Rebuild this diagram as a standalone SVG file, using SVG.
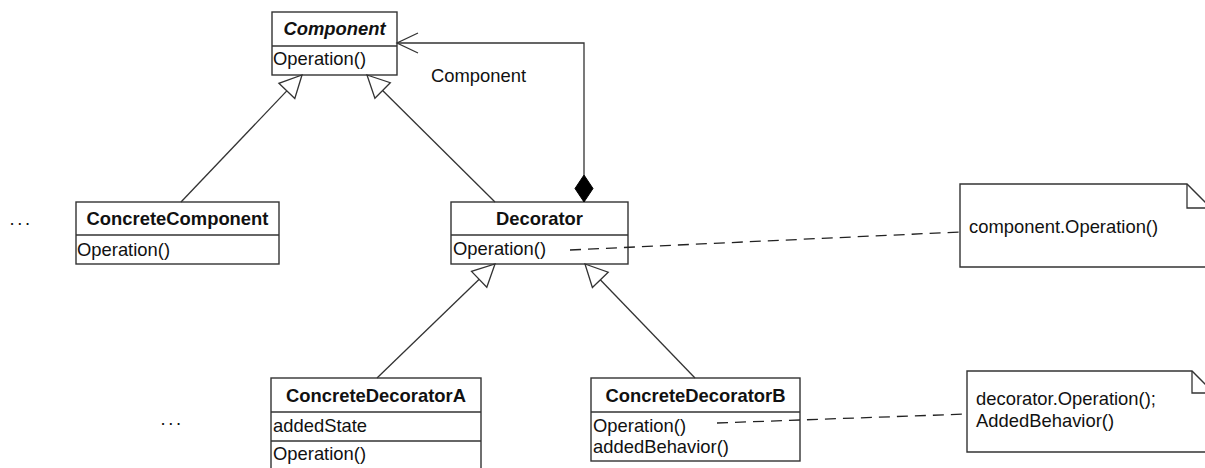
<svg xmlns="http://www.w3.org/2000/svg" width="1205" height="468" viewBox="0 0 1205 468">
<style>
text{font-family:"Liberation Sans",Arial,sans-serif;font-size:18.4px;fill:#111}
.hd{font-weight:bold;text-anchor:middle}
.it{font-style:italic}
.box{fill:#fff;stroke:#333;stroke-width:1.4}
.ln{fill:none;stroke:#333;stroke-width:1.3}
.tri{fill:#fff;stroke:#333;stroke-width:1.3}
.dash{fill:none;stroke:#222;stroke-width:1.3;stroke-dasharray:11,7}
.dots{letter-spacing:2.7px}
</style>
<rect width="1205" height="468" fill="#fff"/>
<g id="Component">
  <rect class="box" x="272" y="12" width="125" height="63"/>
  <line class="ln" x1="272" y1="46" x2="397" y2="46"/>
  <text class="hd it" x="334.5" y="35">Component</text>
  <text x="273" y="65">Operation()</text>
</g>
<g id="ConcreteComponent">
  <rect class="box" x="76" y="202" width="203" height="62"/>
  <line class="ln" x1="76" y1="235" x2="279" y2="235"/>
  <text class="hd" x="177.5" y="225">ConcreteComponent</text>
  <text x="77" y="256">Operation()</text>
</g>
<g id="Decorator">
  <rect class="box" x="451" y="202" width="177" height="62"/>
  <line class="ln" x1="451" y1="235" x2="628" y2="235"/>
  <text class="hd" x="539.5" y="225">Decorator</text>
  <text x="453" y="255">Operation()</text>
</g>
<g id="ConcreteDecoratorA">
  <rect class="box" x="271" y="378" width="210" height="100"/>
  <line class="ln" x1="271" y1="412" x2="481" y2="412"/>
  <line class="ln" x1="271" y1="441" x2="481" y2="441"/>
  <text class="hd" x="376" y="402">ConcreteDecoratorA</text>
  <text x="273" y="432">addedState</text>
  <text x="273" y="460">Operation()</text>
</g>
<g id="ConcreteDecoratorB">
  <rect class="box" x="591" y="378" width="209" height="83"/>
  <line class="ln" x1="591" y1="412" x2="800" y2="412"/>
  <text class="hd" x="695.5" y="402">ConcreteDecoratorB</text>
  <text x="593" y="432">Operation()</text>
  <text x="593" y="453">addedBehavior()</text>
</g>
<g id="note1">
  <polygon class="box" points="960,184 1187,184 1211,208 1211,267 960,267"/>
  <polyline class="ln" points="1187,184 1187,208 1211,208"/>
  <text x="969" y="233">component.Operation()</text>
</g>
<g id="note2">
  <polygon class="box" points="967,371 1192,371 1214,393 1214,452 967,452"/>
  <polyline class="ln" points="1192,371 1192,393 1214,393"/>
  <text x="976" y="405">decorator.Operation();</text>
  <text x="976" y="427">AddedBehavior()</text>
</g>
<g id="ellipsis1"><text class="dots" x="9.5" y="224.5">...</text></g>
<g id="ellipsis2"><text class="dots" x="160.5" y="424.5">...</text></g>
<g id="connectors">
  <line class="ln" x1="181" y1="202" x2="286.8" y2="90.9"/>
  <polygon class="tri" points="302,75 294.8,98.5 278.9,83.3"/>
  <line class="ln" x1="495" y1="202" x2="382.6" y2="90.5"/>
  <polygon class="tri" points="367,75 390.3,82.7 374.9,98.3"/>
  <line class="ln" x1="377" y1="378" x2="479.2" y2="279.3"/>
  <polygon class="tri" points="495,264 486.8,287.2 471.5,271.4"/>
  <line class="ln" x1="695" y1="378" x2="600.3" y2="279.8"/>
  <polygon class="tri" points="585,264 608.2,272.2 592.4,287.5"/>
  <polyline class="ln" points="584,175 584,43 397,43"/>
  <polyline class="ln" points="418,33 397,43 418,53"/>
  <polygon points="584,175 593,188.5 584,202 575,188.5" fill="#000" stroke="#000" stroke-width="1"/>
  <text x="431" y="82">Component</text>
  <line class="dash" x1="570" y1="250" x2="960" y2="232"/>
  <line class="dash" x1="717" y1="423" x2="967" y2="414"/>
</g>
</svg>
